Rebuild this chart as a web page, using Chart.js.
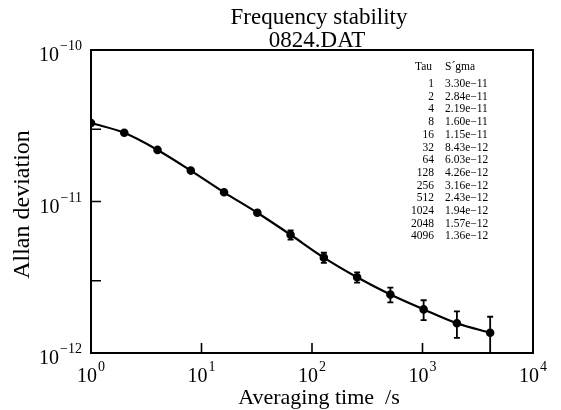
<!DOCTYPE html>
<html>
<head>
<meta charset="utf-8">
<script src="https://cdn.jsdelivr.net/npm/chart.js@4/dist/chart.umd.min.js"></script>
<style>body{margin:0;background:#fff}</style>
</head>
<body>
<canvas id="chart" width="561" height="410"></canvas>
<script>
// Allan deviation data
const tau = [1, 2, 4, 8, 16, 32, 64, 128, 256, 512, 1024, 2048, 4096];
const sigma = [3.30e-11, 2.84e-11, 2.19e-11, 1.60e-11, 1.15e-11, 8.43e-12, 6.03e-12,
  4.26e-12, 3.16e-12, 2.43e-12, 1.94e-12, 1.57e-12, 1.36e-12];
const sigmaErr = [0.2e-12, 0.15e-12, 0.12e-12, 0.1e-12, 0.1e-12, 0.2e-12, 0.42e-12,
  0.33e-12, 0.25e-12, 0.27e-12, 0.29e-12, 0.31e-12, 0.375e-12];

const xLabelVals = [1, 10, 100, 1000, 10000];
const xLabelExp = ['0', '1', '2', '3', '4'];
const xTickMarks = [10, 100, 1000];
const yLabelVals = [1e-10, 1e-11, 1e-12];
const yLabelExp = ['\u221210', '\u221211', '\u221212'];
const yTickMarks = [3e-11, 1e-11, 3e-12];

const titleLines = ['Frequency stability', '0824.DAT'];
const xTitle = 'Averaging time  /s';
const yTitle = 'Allan deviation';
const tableHead = ['Tau', 'S\u00B4gma'];

const serif = '"Liberation Serif", "DejaVu Serif", serif';

function fmtSigma(v) {
  return v.toExponential(2).replace('e-', 'e\u2212');
}

function drawPow(ctx, exp, x, y, align) {
  ctx.font = '20px ' + serif;
  const wb = ctx.measureText('10').width;
  ctx.font = '14px ' + serif;
  const we = ctx.measureText(exp).width;
  const x0 = align === 'right' ? x - wb - we - 1 : x - (wb + we + 1) / 2;
  ctx.textAlign = 'left';
  ctx.textBaseline = 'alphabetic';
  ctx.font = '20px ' + serif;
  ctx.fillText('10', x0, y);
  ctx.font = '14px ' + serif;
  ctx.fillText(exp, x0 + wb + 1, y - 11);
}

const errorBars = {
  id: 'errorBars',
  afterDatasetsDraw(chart) {
    const { ctx, chartArea: a, scales: { x, y } } = chart;
    ctx.save();
    ctx.beginPath();
    ctx.rect(a.left, a.top, a.right - a.left, a.bottom - a.top);
    ctx.clip();
    ctx.strokeStyle = '#000';
    ctx.lineWidth = 1.8;
    tau.forEach((t, i) => {
      const px = x.getPixelForValue(t);
      const lo = Math.max(sigma[i] - sigmaErr[i], 1e-13);
      const y1 = y.getPixelForValue(sigma[i] + sigmaErr[i]);
      const y2 = y.getPixelForValue(lo);
      ctx.beginPath();
      ctx.moveTo(px, y1); ctx.lineTo(px, y2);
      ctx.moveTo(px - 3, y1); ctx.lineTo(px + 3, y1);
      ctx.moveTo(px - 3, y2); ctx.lineTo(px + 3, y2);
      ctx.stroke();
    });
    ctx.restore();
  }
};

const frame = {
  id: 'frame',
  afterDraw(chart) {
    const { ctx, chartArea: a, scales: { x, y } } = chart;
    ctx.save();
    ctx.strokeStyle = '#000';
    ctx.fillStyle = '#000';
    ctx.lineWidth = 2;
    ctx.strokeRect(a.left, a.top, a.right - a.left, a.bottom - a.top);

    ctx.lineWidth = 1.6;
    ctx.beginPath();
    xTickMarks.forEach(v => {
      const px = x.getPixelForValue(v);
      ctx.moveTo(px, a.bottom); ctx.lineTo(px, a.bottom - 10);
    });
    yTickMarks.forEach(v => {
      const py = y.getPixelForValue(v);
      ctx.moveTo(a.left, py); ctx.lineTo(a.left + 10, py);
    });
    ctx.stroke();

    xLabelVals.forEach((v, i) => drawPow(ctx, xLabelExp[i], x.getPixelForValue(v), a.bottom + 29, 'center'));
    yLabelVals.forEach((v, i) => drawPow(ctx, yLabelExp[i], a.left - 9, y.getPixelForValue(v) + 11, 'right'));

    // titles
    ctx.textAlign = 'center';
    ctx.textBaseline = 'alphabetic';
    const cx = (a.left + a.right) / 2 + 5;
    ctx.font = '23px ' + serif;
    ctx.fillText(titleLines[0], cx + 2, 24);
    ctx.fillText(titleLines[1], cx, 47);
    ctx.font = '22px ' + serif;
    ctx.fillText(xTitle, cx + 2, 404);
    ctx.save();
    ctx.translate(29, (a.top + a.bottom) / 2 + 3);
    ctx.rotate(-Math.PI / 2);
    ctx.font = '24px ' + serif;
    ctx.fillText(yTitle, 0, 0);
    ctx.restore();

    // value table
    ctx.font = '11.5px ' + serif;
    ctx.textAlign = 'right';
    ctx.fillText(tableHead[0], 432, 70);
    ctx.textAlign = 'left';
    ctx.fillText(tableHead[1], 445, 70);
    tau.forEach((t, i) => {
      const by = 87 + i * 12.7;
      ctx.textAlign = 'right';
      ctx.fillText(String(t), 434, by);
      ctx.textAlign = 'left';
      ctx.fillText(fmtSigma(sigma[i]), 445, by);
    });
    ctx.restore();
  }
};

new Chart(document.getElementById('chart'), {
  type: 'line',
  data: {
    datasets: [{
      data: tau.map((t, i) => ({ x: t, y: sigma[i] })),
      borderColor: '#000',
      backgroundColor: '#000',
      borderWidth: 2.2,
      pointRadius: 3.2,
      pointHoverRadius: 3.2,
      cubicInterpolationMode: 'monotone',
      fill: false
    }]
  },
  options: {
    responsive: false,
    animation: false,
    layout: { padding: { left: 91, right: 28, top: 50, bottom: 57 } },
    plugins: { legend: { display: false }, title: { display: false }, tooltip: { enabled: false } },
    scales: {
      x: { type: 'logarithmic', min: 1, max: 10000, display: false },
      y: { type: 'logarithmic', min: 1e-12, max: 1e-10, display: false }
    }
  },
  plugins: [errorBars, frame]
});
</script>
</body>
</html>
